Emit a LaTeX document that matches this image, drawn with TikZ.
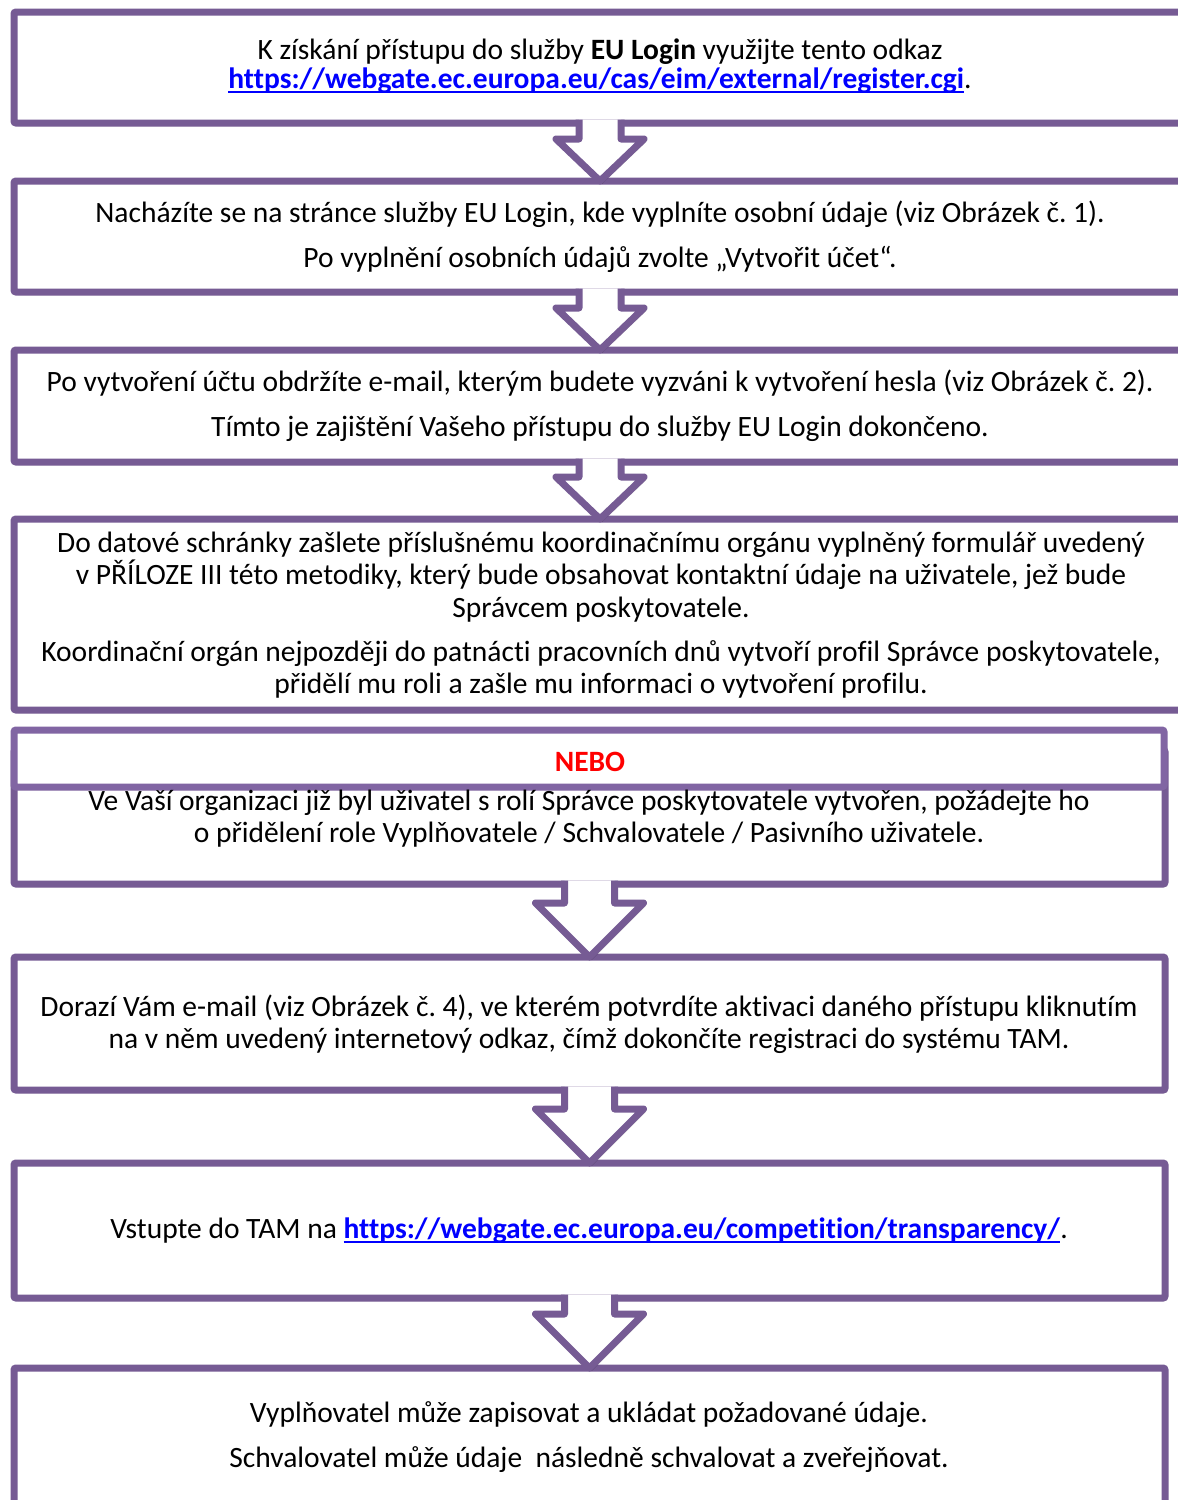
\documentclass[tikz,border=0pt]{standalone}
\usepackage{fontspec}
\setmainfont{Carlito}[Ligatures={NoCommon}]
\usetikzlibrary{shadows,calc}
\definecolor{frame}{RGB}{118,91,148}
\definecolor{framelt}{RGB}{129,101,163}
\definecolor{linkblue}{RGB}{0,0,255}
\definecolor{nebored}{RGB}{255,0,0}
\newsavebox\lnkbox
\newcommand\lnk[1]{\textcolor{linkblue}{\sbox\lnkbox{\textbf{#1}}\rlap{\rule[-5pt]{\wd\lnkbox}{2pt}}\usebox\lnkbox}}
\frenchspacing
\begin{document}
\frenchspacing
\begin{tikzpicture}[x=1pt,y=-1pt,
  boxframe/.style={draw=frame, line width=7pt, fill=white, rounded corners=2pt,
    drop shadow={shadow xshift=2pt, shadow yshift=-3pt, opacity=0.3, fill=black},
    inner sep=0pt, outer sep=0pt},
  smallbox/.style={boxframe, minimum width=1172pt},
  widebox/.style={boxframe, minimum width=1151pt},
  chev/.style={draw=frame, line width=7pt, fill=white, line join=round,
    drop shadow={shadow xshift=2pt, shadow yshift=-3pt, opacity=0.3, fill=black}},
  txt/.style={anchor=base, inner sep=0pt, font=\fontsize{29.5}{34}\selectfont\frenchspacing},
  nebo/.style={txt, font=\fontsize{29.5}{34}\selectfont\bfseries, text=nebored}
]
\clip (0,0) rectangle (1178,1500);
\fill[white] (0,0) rectangle (1178,1500);

% boxes
\node[smallbox, minimum height=111pt] (b1) at (600,67.5) {};
\node[smallbox, minimum height=111pt] (b2) at (600,236.5) {};
\node[smallbox, minimum height=112pt] (b3) at (600,406) {};
\node[smallbox, minimum height=191pt] (b4) at (600,614.5) {};
\node[widebox, minimum height=134pt] (b5) at (589.5,817) {};
\node[boxframe, draw=framelt, minimum width=1150pt, minimum height=57pt] (b5h) at (589,758.5) {};
\node[widebox, minimum height=133pt] (b6) at (589.5,1023.5) {};
\node[widebox, minimum height=135pt] (b7) at (589.5,1230.5) {};
\node[widebox, minimum height=172pt] (b8) at (589.5,1454) {};

% chevron arrows (small)
\foreach \a/\b in {b1/b2, b2/b3, b3/b4}{
  \draw[chev] ($(\a.south)+(-21,-3.5)$) -- ($(\b.north)+(-21,-42)$) -- ($(\b.north)+(-44,-42)$)
    -- (\b.north) -- ($(\b.north)+(44,-42)$) -- ($(\b.north)+(21,-42)$) -- ($(\a.south)+(21,-3.5)$);
}
% chevron arrows (large)
\foreach \a/\b in {b5/b6, b6/b7, b7/b8}{
  \draw[chev] ($(\a.south)+(-25,-3.5)$) -- ($(\b.north)+(-25,-54)$) -- ($(\b.north)+(-54,-54)$)
    -- (\b.north) -- ($(\b.north)+(54,-54)$) -- ($(\b.north)+(25,-54)$) -- ($(\a.south)+(25,-3.5)$);
}

% texts
\node[txt] (t1a) at (600,59) {K získání přístupu do služby \textbf{EU Login} využijte tento odkaz};
\node[txt] (t1b) at (600,88) {\lnk{https://webgate.ec.europa.eu/cas/eim/external/register.cgi}.};

\node[txt] (t2a) at (600,222) {Nacházíte se na stránce služby EU Login, kde vyplníte osobní údaje (viz Obrázek č. 1).};
\node[txt] (t2b) at (600,267) {Po vyplnění osobních údajů zvolte „Vytvořit účet“.};

\node[txt] (t3a) at (600,391) {Po vytvoření účtu obdržíte e-mail, kterým budete vyzváni k vytvoření hesla (viz Obrázek č. 2).};
\node[txt] (t3b) at (600,436) {Tímto je zajištění Vašeho přístupu do služby EU Login dokončeno.};

\node[txt] (t4a) at (601,552) {Do datové schránky zašlete příslušnému koordinačnímu orgánu vyplněný formulář uvedený};
\node[txt] (t4b) at (601,584) {v PŘÍLOZE III této metodiky, který bude obsahovat kontaktní údaje na uživatele, jež bude};
\node[txt] (t4c) at (601,617) {Správcem poskytovatele.};
\node[txt] (t4d) at (601,661) {Koordinační orgán nejpozději do patnácti pracovních dnů vytvoří profil Správce poskytovatele,};
\node[txt] (t4e) at (601,693) {přidělí mu roli a zašle mu informaci o vytvoření profilu.};

\node[nebo] (t5n) at (590,771) {NEBO};
\node[txt] (t5a) at (589,810) {Ve Vaší organizaci již byl uživatel s rolí Správce poskytovatele vytvořen, požádejte ho};
\node[txt] (t5b) at (589,842) {o přidělení role Vyplňovatele / Schvalovatele / Pasivního uživatele.};

\node[txt] (t6a) at (589,1016) {Dorazí Vám e-mail (viz Obrázek č. 4), ve kterém potvrdíte aktivaci daného přístupu kliknutím};
\node[txt] (t6b) at (589,1048) {na v něm uvedený internetový odkaz, čímž dokončíte registraci do systému TAM.};

\node[txt] (t7a) at (589,1238) {Vstupte do TAM na \lnk{https://webgate.ec.europa.eu/competition/transparency/}.};

\node[txt] (t8a) at (589,1422) {Vyplňovatel může zapisovat a ukládat požadované údaje.};
\node[txt] (t8b) at (589,1467) {Schvalovatel může údaje\ \ následně schvalovat a zveřejňovat.};
\end{tikzpicture}
\end{document}
